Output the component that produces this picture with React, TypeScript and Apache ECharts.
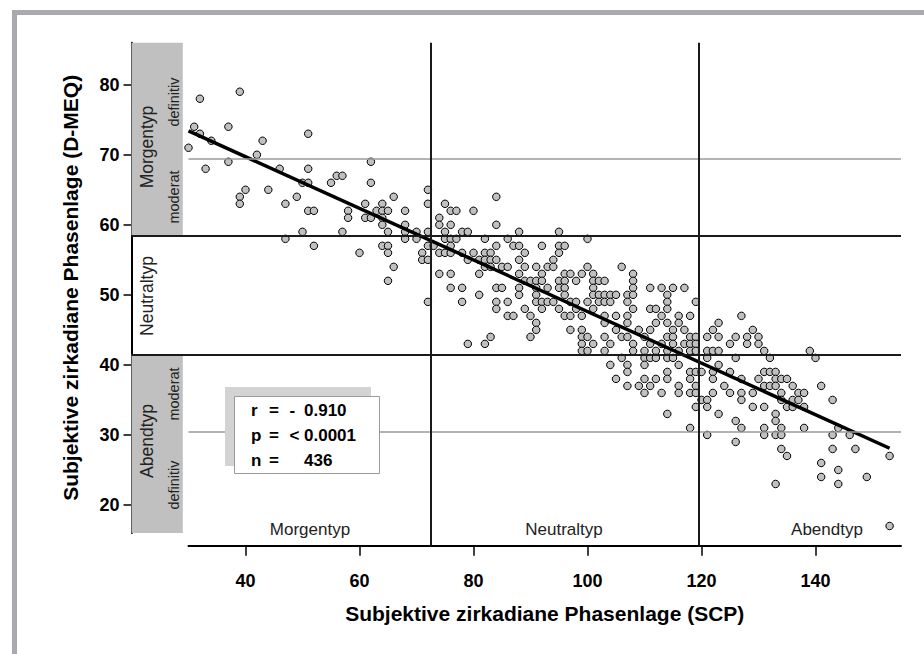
import React, { useEffect, useRef } from "react";
import * as echarts from "echarts";

// ---- data ----
const morningPoints: number[][] = [
  [30,71],[31,74],[32,78],[32,73],[33,68],[34,72],[37,74],[37,69],[39,79],[39,64],[39,63],[40,65],
  [42,70],[43,72],[44,65],[46,68],[47,63],[47,58],[49,64],[50,59],[50,66],[51,73],[51,68],[51,66],
  [51,62],[52,62],[52,57],[55,66],[56,67],[57,67],[57,59],[58,62],[58,61],[60,56],[61,63],[61,61],
  [62,69],[62,66],[62,61],[63,62],[64,63],[64,62],[64,61],[64,60],[64,57],[65,62],[65,59],[65,57],
  [65,56],[65,52],[66,64],[66,54],[68,62],[68,60],[68,59],[68,58],[70,59],[70,58],[71,56],[71,55],
  [72,55],[72,57],[72,59],[72,63],[72,65],[72,49]
];
const neutralPointsA: number[][] = [
  [73,57],[74,61],[74,60],[74,56],[74,53],[75,63],[75,59],[75,58],[75,56],[76,62],[76,60],[76,58],
  [76,57],[76,56],[76,53],[76,51],[77,62],[77,58],[78,59],[78,56],[78,51],[78,49],[79,59],[79,55],
  [79,43],[80,62],[80,56],[81,55],[81,53],[81,50],[82,58],[82,56],[82,55],[82,54],[82,43],[83,56],
  [83,55],[83,54],[83,44],[84,64],[84,60],[84,57],[84,55],[84,51],[84,49],[84,48],[85,54],[85,51],
  [86,58],[86,54],[86,49],[86,47],[87,57],[87,47],[88,59],[88,57],[88,55],[88,53],[88,51],[88,50],
  [89,56],[89,54],[89,52],[89,48],[90,52],[90,47],[90,44],[91,54],[91,52],[91,51],[91,50],[91,49],
  [91,46],[91,45],[92,57],[92,53],[92,52],[92,49],[92,48],[93,54],[93,51],[93,49],[94,55],[94,54],
  [94,49],[95,59],[95,57],[95,56],[95,52],[95,51],[95,48],[96,57],[96,53],[96,52],[96,51],[96,50],
  [96,47],[97,53],[97,49],[97,47],[97,45],[98,52],[98,49],[98,48]
];
const neutralPointsB: number[][] = [
  [99,53],[99,47],[99,45],[99,44],[99,43],[99,42],[100,58],[100,54],[100,49],[100,44],[100,42],
  [101,53],[101,52],[101,51],[101,50],[101,48],[101,43],[102,52],[102,50],[102,49],[103,52],[103,50],
  [103,49],[103,47],[103,46],[103,44],[103,42],[104,50],[104,49],[104,43],[104,40],[105,50],[105,47],
  [105,45],[105,38],[106,54],[106,44],[106,41],[107,50],[107,49],[107,47],[107,46],[107,44],[107,40],
  [107,39],[107,37],[108,53],[108,52],[108,51],[108,50],[108,48],[108,43],[108,42],[109,45],[109,37],
  [110,44],[110,42],[110,41],[110,40],[110,38],[110,36],[111,51],[111,48],[111,45],[111,43],[111,41],
  [111,37],[112,48],[112,46],[112,42],[112,41],[112,38],[113,51],[113,47],[113,43],[113,36],[114,50],
  [114,49],[114,48],[114,46],[114,44],[114,42],[114,41],[114,39],[114,38],[114,33],[115,51],[115,45],
  [115,44],[115,43],[115,41],[116,47],[116,46],[116,42],[116,40],[116,37],[116,36],[117,51],[117,45],
  [117,43],[118,47],[118,44],[118,43],[118,42],[118,39],[118,38],[118,36],[118,31],[119,49],[119,44],
  [119,43],[119,42],[119,39],[119,37],[119,36],[119,34]
];
const eveningPoints: number[][] = [
  [120,39],[120,35],[121,44],[121,42],[121,41],[121,35],[121,34],[121,30],[122,45],[122,42],[122,39],
  [122,38],[122,36],[123,46],[123,44],[123,42],[123,40],[123,33],[124,37],[125,43],[125,39],[125,36],
  [126,44],[126,41],[126,32],[126,29],[127,47],[127,38],[127,36],[127,35],[127,31],[128,44],[128,43],
  [129,45],[129,36],[129,34],[130,44],[130,43],[130,38],[131,42],[131,39],[131,37],[131,34],[131,31],
  [131,30],[132,41],[132,39],[132,37],[133,39],[133,38],[133,37],[133,33],[133,32],[133,30],[133,23],
  [134,38],[134,36],[134,35],[134,31],[134,30],[134,28],[135,38],[135,34],[135,27],[136,37],[136,35],
  [136,34],[137,36],[137,35],[138,36],[138,34],[138,31],[139,42],[140,41],[141,37],[141,26],[141,24],
  [143,35],[143,30],[143,28],[144,31],[144,25],[144,23],[146,30],[147,28],[149,24],[153,27],[153,17]
];
const regressionLine: number[][] = [[30, 73.4], [153, 28.1]];
const xTicks = [40, 60, 80, 100, 120, 140];
const yTicks = [20, 30, 40, 50, 60, 70, 80];
const typeBounds = [58.5, 41.5];     // D-MEQ: Morgentyp / Neutraltyp / Abendtyp
const subtypeBounds = [69.5, 30.5];  // definitiv / moderat
const scpBounds = [72.5, 119.5];     // SCP: Morgentyp / Neutraltyp / Abendtyp
const xCategories = ["Morgentyp", "Neutraltyp", "Abendtyp"];
const statLabels = ["r", "p", "n"];
const statSigns = ["-", "<", ""];
const statValues = ["0.910", "0.0001", "436"];

const FONT = '"Liberation Sans", Arial, Helvetica, sans-serif';

export default function App() {
  const ref = useRef<HTMLDivElement>(null);
  useEffect(() => {
    if (!ref.current) return;
    const chart = echarts.init(ref.current, undefined, { renderer: "svg" });
    const allPoints = [...morningPoints, ...neutralPointsA, ...neutralPointsB, ...eveningPoints];
    const xMin = 20, xMax = 155, yMin = 16, yMax = 86, bandRight = 29, lineLeft = 30;

    const graphic: any[] = [
      { type: "rect", shape: { x: 12, y: 10, width: 912, height: 5 }, style: { fill: "#a9aaae" }, silent: true },
      { type: "rect", shape: { x: 12, y: 10, width: 5, height: 644 }, style: { fill: "#a9aaae" }, silent: true },
      // stats box
      { type: "rect", shape: { x: 225, y: 387, width: 146, height: 79 }, style: { fill: "#d3d3d3" }, z: 10 },
      { type: "rect", shape: { x: 234.5, y: 396.5, width: 145, height: 77 }, style: { fill: "#fff", stroke: "#9a9a9a", lineWidth: 1 }, z: 11 },
    ];
    statLabels.forEach((l, i) => {
      const y = 410 + i * 25.3;
      const st = { fontSize: 17, fontWeight: "bold", fontFamily: FONT, fill: "#000", verticalAlign: "middle" };
      graphic.push({ type: "text", x: 251, y, z: 12, style: { ...st, text: l, align: "left" } });
      graphic.push({ type: "text", x: 269, y, z: 12, style: { ...st, text: "=", align: "left" } });
      if (statSigns[i]) graphic.push({ type: "text", x: 289.5, y, z: 12, style: { ...st, text: statSigns[i], align: "left" } });
      graphic.push({ type: "text", x: 304, y, z: 12, style: { ...st, text: statValues[i], align: "left" } });
    });
    // x category labels
    const catX = [310, 564, 827];
    xCategories.forEach((c, i) => {
      graphic.push({ type: "text", x: catX[i], y: 529, z: 12, style: { text: c, fontSize: 17, fontFamily: FONT, fill: "#222", align: "center", verticalAlign: "middle" } });
    });
    // rotated band labels
    const rot = [
      { t: "Morgentyp", x: 147, y: 147, s: 17.5 },
      { t: "definitiv", x: 174, y: 102, s: 14.5 },
      { t: "moderat", x: 174, y: 197, s: 14.5 },
      { t: "Neutraltyp", x: 147, y: 296, s: 17.5 },
      { t: "Abendtyp", x: 147, y: 441, s: 17.5 },
      { t: "moderat", x: 174, y: 394, s: 14.5 },
      { t: "definitiv", x: 174, y: 485, s: 14.5 },
    ];
    rot.forEach((r) => {
      graphic.push({ type: "text", x: r.x, y: r.y, rotation: Math.PI / 2, z: 12, style: { text: r.t, fontSize: r.s, fontFamily: FONT, fill: "#222", align: "center", verticalAlign: "middle" } });
    });

    const mlBlack = { color: "#1a1a1a", width: 2, type: "solid" };
    const mlGray = { color: "#9a9a9a", width: 1.5, type: "solid" };

    chart.setOption({
      animation: false,
      backgroundColor: "#fff",
      textStyle: { fontFamily: FONT },
      grid: [
        { left: 131.5, right: 23, top: 42.7, bottom: 121, outerBoundsMode: "none" },
        { left: 188.5, right: 23, top: 533, bottom: 108.3, outerBoundsMode: "none" },
      ],
      xAxis: [
        { gridIndex: 0, type: "value", min: xMin, max: xMax, show: false },
        {
          gridIndex: 1, type: "value", min: lineLeft, max: xMax, position: "bottom",
          axisLine: { show: true, lineStyle: { color: "#000", width: 2 } },
          axisTick: { show: true, customValues: xTicks, length: 10, lineStyle: { color: "#000", width: 1.5 } },
          axisLabel: { show: true, customValues: xTicks, margin: 26, fontSize: 18, fontWeight: "bold", color: "#000", fontFamily: FONT },
          splitLine: { show: false },
          name: "Subjektive zirkadiane Phasenlage (SCP)", nameLocation: "middle", nameGap: 57,
          nameTextStyle: { fontSize: 21, fontWeight: "bold", color: "#000", fontFamily: FONT },
        },
      ],
      yAxis: [
        {
          gridIndex: 0, type: "value", min: yMin, max: yMax,
          axisLine: { show: true, lineStyle: { color: "#000", width: 2 } },
          axisTick: { show: true, customValues: yTicks, length: 8, lineStyle: { color: "#000", width: 1.5 } },
          axisLabel: { show: true, customValues: yTicks, margin: 12, fontSize: 18, fontWeight: "bold", color: "#000", fontFamily: FONT },
          splitLine: { show: false },
          name: "Subjektive zirkadiane Phasenlage (D-MEQ)", nameLocation: "middle", nameGap: 51,
          nameTextStyle: { fontSize: 21, fontWeight: "bold", color: "#000", fontFamily: FONT },
        },
        { gridIndex: 1, type: "value", min: 0, max: 1, show: false },
      ],
      series: [
        {
          type: "line", xAxisIndex: 0, yAxisIndex: 0, data: [], z: 1, silent: true,
          markArea: {
            silent: true, itemStyle: { color: "#c0c0c0" }, label: { show: false },
            data: [
              [{ coord: [xMin, yMax] }, { coord: [bandRight, typeBounds[0]] }],
              [{ coord: [xMin, typeBounds[1]] }, { coord: [bandRight, yMin] }],
            ],
          },
          markLine: {
            silent: true, symbol: ["none", "none"], label: { show: false },
            data: [
              ...typeBounds.map((v) => [{ coord: [xMin, v], lineStyle: mlBlack }, { coord: [xMax, v] }]),
              ...subtypeBounds.map((v) => [{ coord: [lineLeft, v], lineStyle: mlGray }, { coord: [xMax, v] }]),
              ...scpBounds.map((v) => [{ coord: [v, yMin], lineStyle: mlBlack }, { coord: [v, yMax] }]),
            ],
          },
        },
        {
          type: "line", xAxisIndex: 1, yAxisIndex: 1, data: [], z: 1, silent: true,
          markLine: {
            silent: true, symbol: ["none", "none"], label: { show: false },
            data: scpBounds.map((v) => [{ coord: [v, 0], lineStyle: mlBlack }, { coord: [v, 1] }]),
          },
        },
        {
          type: "scatter", xAxisIndex: 0, yAxisIndex: 0, data: allPoints, symbol: "circle", symbolSize: 7.5, z: 3,
          itemStyle: { color: "#c0c0c0", borderColor: "#000", borderWidth: 1, opacity: 1 }, silent: true,
        },
        {
          type: "line", xAxisIndex: 0, yAxisIndex: 0, data: regressionLine, z: 4, symbol: "none", silent: true,
          lineStyle: { color: "#000", width: 3.5 },
        },
      ],
      graphic,
    });
    return () => chart.dispose();
  }, []);
  return <div ref={ref} style={{ position: "fixed", left: 0, top: 0, width: 924, height: 654 }} />;
}
